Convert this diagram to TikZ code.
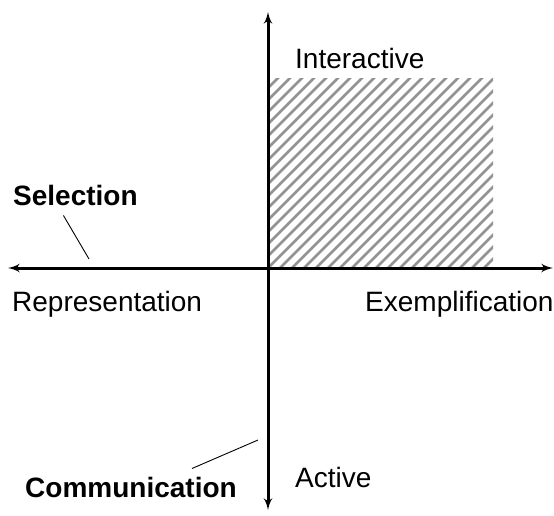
\documentclass[tikz,border=0pt]{standalone}
\usepackage{fontspec}
\setmainfont{Liberation Sans}
\usetikzlibrary{arrows,positioning}
\tikzstyle{axis}=[line width=3pt, ->]
\tikzstyle{label}=[inner sep=0pt, anchor=base west]
\tikzstyle{leader}=[line width=0.9pt]
\tikzstyle{hatch}=[line width=2.8pt, gray!85]

\begin{document}
\begin{tikzpicture}[x=1pt,y=1pt,>=latex',font=\fontsize{28}{32}\selectfont]
  \useasboundingbox (-268,-247) rectangle (286,268);
  % hatched quadrant
  \begin{scope}
    \clip (0,0) rectangle (225,190);
    \foreach \c in {-192,-180,...,228}
      \draw[hatch] (\c,0) -- ++(200,200);
  \end{scope}
  % axes
  \coordinate (o) at (0,0);
  \coordinate (top) at (0,256);
  \coordinate (bot) at (0,-242);
  \coordinate (left) at (-260,0);
  \coordinate (right) at (285,0);
  \draw[axis] (o) -- (top);
  \draw[axis] (o) -- (bot);
  \draw[axis] (o) -- (left);
  \draw[axis] (o) -- (right);
  % labels
  \node [label] (inter) at (27,200) {Interactive};
  \node [label] (rep) at (-256,-43) {Representation};
  \node [label] (ex) at (97,-43) {Exemplification};
  \node [label] (act) at (27,-219) {Active};
  \node [label,font=\fontsize{28}{32}\selectfont\bfseries] (sel) at (-255,63) {Selection};
  \node [label,font=\fontsize{28}{32}\selectfont\bfseries] (com) at (-243,-229) {Communication};
  \coordinate (selend) at (-179,9);
  \coordinate (comend) at (-10,-172);
  \draw[leader] ([xshift=-12pt,yshift=-10pt]sel.south) -- (selend);
  \draw[leader] ([xshift=-45pt,yshift=8pt]com.north east) -- (comend);
\end{tikzpicture}
\end{document}
